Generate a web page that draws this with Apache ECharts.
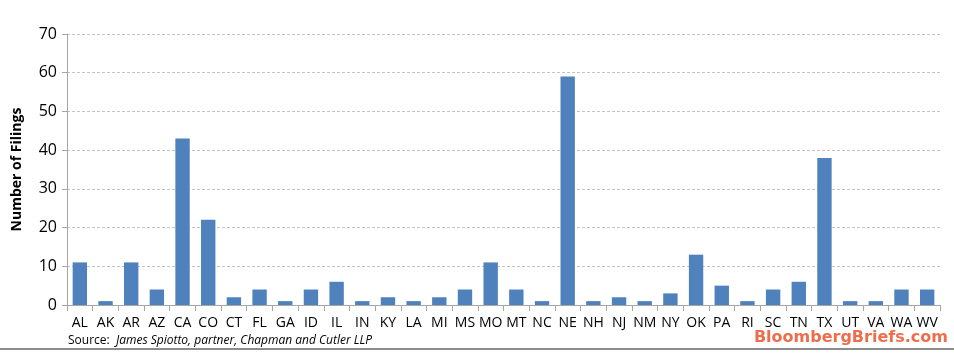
<!DOCTYPE html>
<html>
<head>
<meta charset="utf-8">
<script src="https://cdn.jsdelivr.net/npm/echarts@6/dist/echarts.min.js"></script>
<style>
  html, body { margin: 0; padding: 0; background: #fff; }
  #chart { width: 954px; height: 353px; }
</style>
</head>
<body>
<div id="chart"></div>
<script>
var states = ['AL','AK','AR','AZ','CA','CO','CT','FL','GA','ID','IL','IN','KY','LA','MI','MS','MO',
              'MT','NC','NE','NH','NJ','NM','NY','OK','PA','RI','SC','TN','TX','UT','VA','WA','WV'];
var filings = [11, 1, 11, 4, 43, 22, 2, 4, 1, 4, 6, 1, 2, 1, 2, 4, 11,
               4, 1, 59, 1, 2, 1, 3, 13, 5, 1, 4, 6, 38, 1, 1, 4, 4];

var myChart = echarts.init(document.getElementById('chart'));
myChart.setOption({
    animation: false,
    grid: {
        left: 67,
        right: 14,
        top: 34,
        bottom: 48
    },
    xAxis: {
        type: 'category',
        data: states,
        axisLine: { lineStyle: { color: '#a6a6a6' } },
        axisTick: { show: true, length: 6, lineStyle: { color: '#a6a6a6' } },
        axisLabel: {
            color: '#000',
            fontFamily: 'Open Sans',
            fontSize: 14,
            margin: 11,
            interval: 0
        }
    },
    yAxis: {
        type: 'value',
        min: 0,
        max: 70,
        interval: 10,
        name: 'Number of Filings',
        nameLocation: 'middle',
        nameGap: 43,
        nameTextStyle: {
            color: '#000',
            fontFamily: 'Open Sans',
            fontWeight: 'bold',
            fontSize: 14
        },
        axisLine: { show: true, lineStyle: { color: '#a6a6a6' } },
        axisTick: { show: true, length: 5, lineStyle: { color: '#a6a6a6' } },
        axisLabel: {
            color: '#000',
            fontFamily: 'Open Sans',
            fontSize: 16,
            margin: 10
        },
        splitLine: { lineStyle: { color: '#c4c4c4', type: [3, 2] } }
    },
    series: [{
        type: 'bar',
        data: filings,
        barWidth: '56%',
        itemStyle: { color: '#4f81bd' }
    }],
    graphic: [
        {
            type: 'text',
            left: 68,
            top: 335,
            style: {
                rich: {
                    a: { fontFamily: 'Open Sans', fontSize: 12, fill: '#000' },
                    b: { fontFamily: 'Open Sans', fontSize: 12, fontStyle: 'italic', fill: '#000' }
                },
                text: '{a|Source:  }{b|James Spiotto, partner, Chapman and Cutler LLP}'
            }
        },
        {
            type: 'text',
            right: 6,
            top: 330,
            style: {
                text: 'BloombergBriefs.com',
                fontFamily: 'DejaVu Sans',
                fontSize: 16,
                fontWeight: 'bold',
                fill: '#ec6e4c',
                letterSpacing: 1
            }
        },
        {
            type: 'rect',
            left: 0,
            top: 348,
            shape: { width: 954, height: 2 },
            style: { fill: '#8c8c8c' }
        }
    ]
});
window.onresize = function () {
    myChart.resize();
};
</script>
</body>
</html>
